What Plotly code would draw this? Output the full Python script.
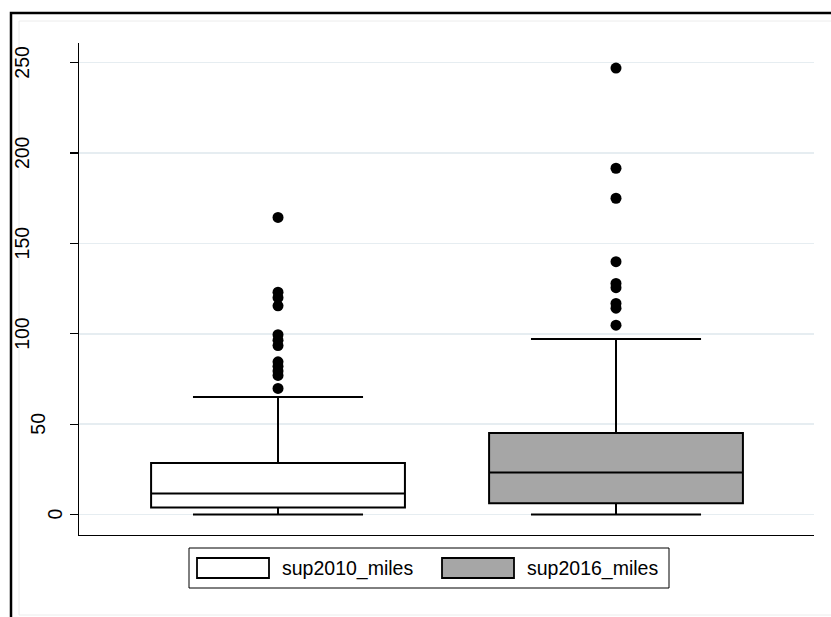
import plotly.graph_objects as go

# ---------------- data ----------------
categories = ["sup2010_miles", "sup2016_miles"]
q1_values = [3.9, 6.3]
median_values = [11.6, 23.3]
q3_values = [28.6, 45.2]
lower_whiskers = [0.0, 0.0]
upper_whiskers = [65.1, 97.1]
outliers_2010 = [69.8, 77.0, 79.5, 82.0, 84.5, 93.5, 96.5, 99.5, 115.5, 120.0, 123.0, 164.4]
outliers_2016 = [104.8, 114.2, 116.8, 125.5, 127.9, 139.9, 175.0, 191.6, 247.0]
outlier_lists = [outliers_2010, outliers_2016]
y_tick_values = [0, 50, 100, 150, 200, 250]
y_tick_labels = ["0", "50", "100", "150", "200", "250"]

# ---------------- style ----------------
fill_colors = ["#ffffff", "#a6a6a6"]
FONT = "Liberation Sans, Arial, sans-serif"
FS = 19.5
W, H = 831, 617
PLOT_LEFT, PLOT_RIGHT, PLOT_TOP, PLOT_BOTTOM = 79, 814, 43, 535  # page pixels
ML, MT = PLOT_LEFT, PLOT_TOP
MR = W - PLOT_RIGHT
MB = H - PLOT_BOTTOM
PW, PH = PLOT_RIGHT - PLOT_LEFT, PLOT_BOTTOM - PLOT_TOP


def px_x(px):
    return (px - PLOT_LEFT) / PW


def px_y(py):
    return (PLOT_BOTTOM - py) / PH


fig = go.Figure()

for i, name in enumerate(categories):
    xpos = i + 1
    fig.add_trace(go.Box(
        x=[xpos], q1=[q1_values[i]], median=[median_values[i]], q3=[q3_values[i]],
        lowerfence=[lower_whiskers[i]], upperfence=[upper_whiskers[i]],
        name=name, width=0.751, whiskerwidth=0.67,
        fillcolor=fill_colors[i], line=dict(color="black", width=2),
        boxpoints=False, showlegend=False, hoverinfo="skip",
    ))
    fig.add_trace(go.Scatter(
        x=[xpos] * len(outlier_lists[i]), y=outlier_lists[i], mode="markers",
        marker=dict(color="black", size=11), showlegend=False, hoverinfo="skip",
    ))

# y tick labels (rotated, Stata-style placement)
annotations = []
for v, lab in zip(y_tick_values, y_tick_labels):
    annotations.append(dict(
        x=0, xref="paper", y=v, yref="y", text=lab, showarrow=False,
        textangle=-90, xanchor="center", yanchor="middle",
        xshift=-24 - 16.5 * (len(lab) - 1),
        font=dict(family=FONT, size=FS, color="black"),
    ))

shapes = []
# outer black frame and faint inner frame
shapes.append(dict(type="rect", xref="paper", yref="paper",
                   x0=px_x(19), x1=px_x(900), y0=px_y(615), y1=px_y(21),
                   line=dict(color="#ececec", width=1), layer="below"))
shapes.append(dict(type="rect", xref="paper", yref="paper",
                   x0=px_x(11), x1=px_x(900), y0=px_y(700), y1=px_y(13),
                   line=dict(color="black", width=2.5), layer="above"))
# legend box
shapes.append(dict(type="rect", xref="paper", yref="paper",
                   x0=px_x(189), x1=px_x(669), y0=px_y(588), y1=px_y(548),
                   line=dict(color="black", width=1), fillcolor="white"))
legend_sym_x = [197, 442]
legend_text_x = [280, 525]
for i, name in enumerate(categories):
    shapes.append(dict(type="rect", xref="paper", yref="paper",
                       x0=px_x(legend_sym_x[i]), x1=px_x(legend_sym_x[i] + 72),
                       y0=px_y(578), y1=px_y(558),
                       line=dict(color="black", width=1.8), fillcolor=fill_colors[i]))
    annotations.append(dict(
        x=px_x(legend_text_x[i]), xref="paper", y=px_y(568), yref="paper",
        text=name, showarrow=False, xanchor="left", yanchor="middle",
        font=dict(family=FONT, size=FS, color="black"),
    ))

fig.update_layout(
    width=W, height=H,
    margin=dict(l=ML, r=MR, t=MT, b=MB, pad=0),
    paper_bgcolor="white", plot_bgcolor="white",
    font=dict(family=FONT, size=FS, color="black"),
    showlegend=False,
    hovermode=False,
    xaxis=dict(range=[0.4112, 2.5858], showticklabels=False, ticks="",
               showgrid=False, zeroline=False, showline=True,
               linecolor="black", linewidth=1.2, fixedrange=True),
    yaxis=dict(range=[-11.3, 260.9], tickvals=y_tick_values, showticklabels=False,
               ticks="outside", ticklen=8, tickwidth=1.2, tickcolor="black",
               showgrid=True, gridcolor="#e6edf1", gridwidth=1.5,
               zeroline=False, showline=True, linecolor="black", linewidth=1.2,
               fixedrange=True),
    annotations=annotations,
    shapes=shapes,
)

fig.write_html(
    "out.html",
    config={"displayModeBar": False, "staticPlot": True},
    post_script="document.body.style.margin='0';document.body.style.overflow='hidden';",
)
